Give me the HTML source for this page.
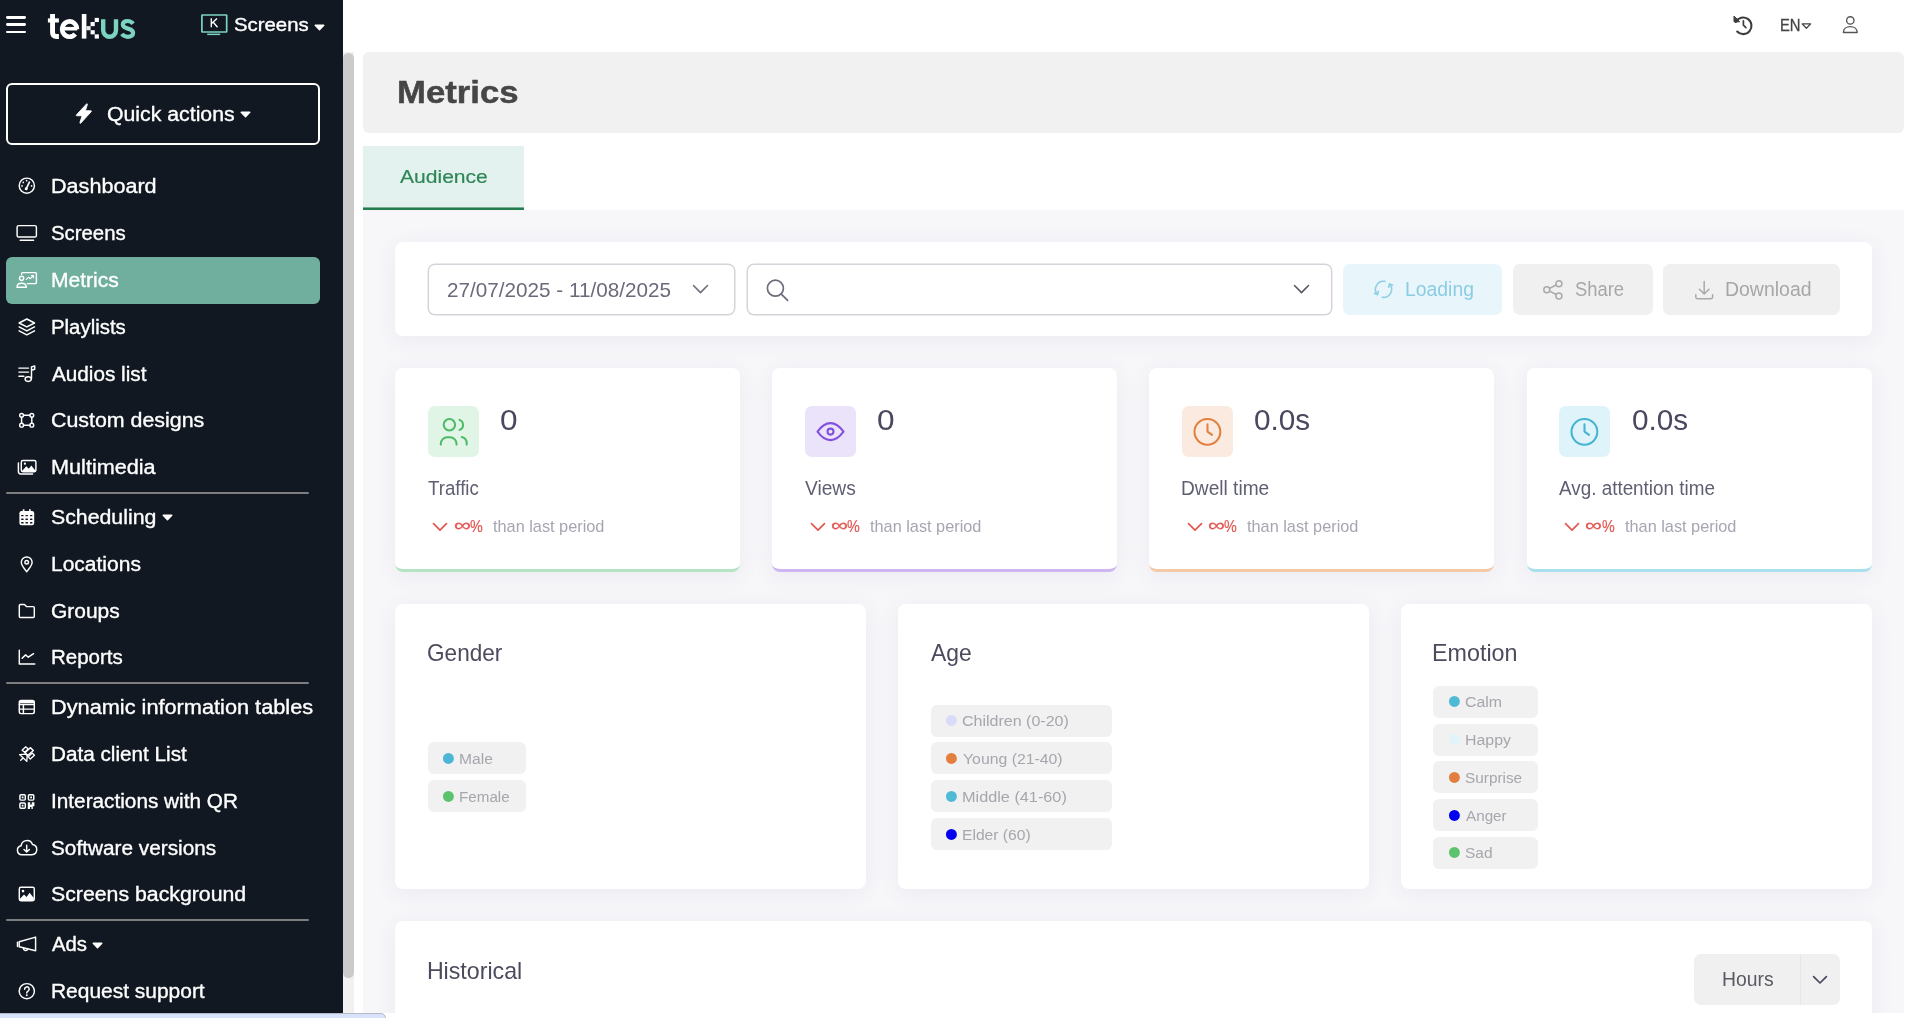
<!DOCTYPE html>
<html lang="en"><head><meta charset="utf-8"><title>Metrics</title>
<style>
html,body{margin:0;padding:0;}
body{width:1920px;height:1018px;overflow:hidden;background:#fff;position:relative;will-change:transform;font-family:"Liberation Sans",sans-serif;}
.a{position:absolute;display:block;box-sizing:border-box;}
.t{position:absolute;white-space:nowrap;line-height:1;transform-origin:0 0;display:block;}

.card{position:absolute;background:#fff;border-radius:8px;box-shadow:0 4px 22px rgba(85,85,125,0.075);box-sizing:border-box;}
.ni{position:absolute;left:16px;fill:none;stroke:#fff;stroke-width:1.45;stroke-linecap:round;stroke-linejoin:round;overflow:visible;}
.li{position:absolute;fill:none;stroke-linecap:round;stroke-linejoin:round;overflow:visible;}
</style></head>
<body>
<div class="a" style="left:363px;top:52px;width:1541px;height:80.5px;background:#f1f1f1;border-radius:6px;"></div>
<div class="a" style="left:363px;top:210px;width:1541px;height:803px;background:#f7f7fa;"></div>
<div class="a" style="left:363px;top:146px;width:161px;height:64px;background:#e4f2ef;"></div>
<svg class="a" style="left:363px;top:205px" width="161" height="5" viewBox="0 0 161 5"><rect x="0" y="2.45" width="161" height="2.55" fill="#257c4e"/></svg>
<div class="a" style="left:0px;top:0px;width:343px;height:1018px;background:#111821;"></div>
<div class="a" style="left:343.2px;top:52.4px;width:10.6px;height:962px;background:#f1f1f1;"></div>
<div class="a" style="left:343.3px;top:52.6px;width:10.5px;height:925.1px;background:#cbcbcb;border-radius:5.3px;"></div>
<div class="a" style="left:5.8px;top:16.0px;width:20.4px;height:2.7px;background:#fff;border-radius:1.4px;"></div>
<div class="a" style="left:5.8px;top:23.0px;width:20.4px;height:2.7px;background:#fff;border-radius:1.4px;"></div>
<div class="a" style="left:5.8px;top:30.5px;width:20.4px;height:2.7px;background:#fff;border-radius:1.4px;"></div>
<svg class="a" style="left:40px;top:5px" width="105" height="42" viewBox="0 0 105 42" fill="none"><g stroke="#fff" stroke-linecap="butt"><path d="M12.55 9V27.6Q12.55 31.55 16.6 31.55H18.9" stroke-width="4.9"/><path d="M7.9 15.45H18.9" stroke-width="4.1"/><path d="M36.9 24.2A7.35 7.7 0 1 0 35.2 29" stroke-width="4.6"/><path d="M22.6 23.7H37.2" stroke-width="3.6"/></g><g fill="#fff"><rect x="41.8" y="9" width="4.6" height="24.6"/><rect x="54.7" y="12.9" width="4.2" height="4.15"/><rect x="50.55" y="17" width="4.2" height="4.15"/><rect x="46.4" y="21.1" width="4.2" height="4.15" fill="#e9e9e9"/><rect x="50.55" y="25.2" width="4.2" height="4.15"/><rect x="54.7" y="29.35" width="4.2" height="4.25"/></g><g stroke="#7bd3c0"><path d="M63.2 14.3V25.3a6.4 6.4 0 0 0 12.8 0V14.3" stroke-width="4.4"/><path d="M93.1 18.7C91.7 16.8 89.9 16 87.7 16C84.7 16 82.8 17.4 82.8 19.6C82.8 21.9 84.8 22.8 87.9 23.6C91.2 24.4 93.1 25.5 93.1 28C93.1 30.3 90.9 31.8 87.8 31.8C85.2 31.8 83.3 30.9 81.9 28.9" stroke-width="4.2"/></g></svg>
<svg class="a" style="left:199px;top:12px;overflow:visible" width="31" height="26" viewBox="0 0 31 26"><rect x="2.9" y="3" width="24.8" height="17" rx="0.3" fill="none" stroke="#7bd3c0" stroke-width="1.7"/><rect x="8.2" y="21.6" width="13" height="1.5" fill="#7bd3c0"/><path d="M12.3 6.3v9M18 6.6l-5.4 5M14.3 10.2l4.2 5.1" fill="none" stroke="#fff" stroke-width="1.35"/></svg>
<span class="t" style="left:233.96px;top:15.84px;font-size:18.5px;color:#ffffff;-webkit-text-stroke:0.35px #ffffff;transform:scaleX(1.1003);">Screens</span>
<svg class="a" style="left:314px;top:23.6px" width="11" height="7" viewBox="0 0 11 7"><path d="M1.2 0.6h8.6a.7.7 0 0 1 .5 1.2L6 6.2a.7.7 0 0 1-1 0L.7 1.8a.7.7 0 0 1 .5-1.2z" fill="#fff"/></svg>
<div class="a" style="left:6px;top:83px;width:314px;height:62px;border-radius:6px;border:2.3px solid #fff;"></div>
<svg class="a" style="left:75px;top:103px" width="18" height="21" viewBox="0 0 18 21"><path d="M11.6 0.9 1.4 11.9a.5.5 0 0 0 .4.85h5.3L4.9 19.7c-.15.5.45.85.8.45L16.3 8.6a.5.5 0 0 0-.4-.85h-5.5l2-6.4c.15-.5-.45-.85-.8-.45z" fill="#fff" stroke="#fff" stroke-width=".9" stroke-linejoin="round"/></svg>
<span class="t" style="left:107.30px;top:103.67px;font-size:20px;color:#ffffff;-webkit-text-stroke:0.35px #ffffff;transform:scaleX(1.0634);">Quick actions</span>
<svg class="a" style="left:240.4px;top:110.8px" width="11" height="7" viewBox="0 0 11 7"><path d="M1.2 0.6h8.6a.7.7 0 0 1 .5 1.2L6 6.2a.7.7 0 0 1-1 0L.7 1.8a.7.7 0 0 1 .5-1.2z" fill="#fff"/></svg>
<div class="a" style="left:6px;top:491.5px;width:303px;height:2.7px;background:#7e7e80;border-radius:1.3px;"></div>
<div class="a" style="left:6px;top:681.6999999999998px;width:303px;height:2.7px;background:#7e7e80;border-radius:1.3px;"></div>
<div class="a" style="left:6px;top:918.6999999999996px;width:303px;height:2.7px;background:#7e7e80;border-radius:1.3px;"></div>
<div class="a" style="left:6px;top:256.8px;width:314px;height:46.8px;background:#70ae9e;border-radius:6px;"></div>
<span class="t" style="left:51.21px;top:176.37px;font-size:20px;color:#ffffff;-webkit-text-stroke:0.35px #ffffff;transform:scaleX(1.0793);">Dashboard</span>
<span class="t" style="left:51.36px;top:223.17px;font-size:20px;color:#ffffff;-webkit-text-stroke:0.35px #ffffff;transform:scaleX(1.0178);">Screens</span>
<span class="t" style="left:51.26px;top:269.97px;font-size:20px;color:#ffffff;-webkit-text-stroke:0.35px #ffffff;transform:scaleX(1.0521);">Metrics</span>
<span class="t" style="left:51.31px;top:316.77px;font-size:20px;color:#ffffff;-webkit-text-stroke:0.35px #ffffff;transform:scaleX(1.0188);">Playlists</span>
<span class="t" style="left:51.50px;top:363.57px;font-size:20px;color:#ffffff;-webkit-text-stroke:0.35px #ffffff;transform:scaleX(1.0359);">Audios list</span>
<span class="t" style="left:51.00px;top:410.37px;font-size:20px;color:#ffffff;-webkit-text-stroke:0.35px #ffffff;transform:scaleX(1.0688);">Custom designs</span>
<span class="t" style="left:51.21px;top:457.17px;font-size:20px;color:#ffffff;-webkit-text-stroke:0.35px #ffffff;transform:scaleX(1.0823);">Multimedia</span>
<span class="t" style="left:51.33px;top:506.97px;font-size:20px;color:#ffffff;-webkit-text-stroke:0.35px #ffffff;transform:scaleX(1.0646);">Scheduling</span>
<span class="t" style="left:51.26px;top:553.77px;font-size:20px;color:#ffffff;-webkit-text-stroke:0.35px #ffffff;transform:scaleX(1.0500);">Locations</span>
<span class="t" style="left:51.02px;top:600.57px;font-size:20px;color:#ffffff;-webkit-text-stroke:0.35px #ffffff;transform:scaleX(1.0481);">Groups</span>
<span class="t" style="left:51.30px;top:647.37px;font-size:20px;color:#ffffff;-webkit-text-stroke:0.35px #ffffff;transform:scaleX(1.0244);">Reports</span>
<span class="t" style="left:51.20px;top:697.17px;font-size:20px;color:#ffffff;-webkit-text-stroke:0.35px #ffffff;transform:scaleX(1.0865);">Dynamic information tables</span>
<span class="t" style="left:51.28px;top:743.97px;font-size:20px;color:#ffffff;-webkit-text-stroke:0.35px #ffffff;transform:scaleX(1.0349);">Data client List</span>
<span class="t" style="left:51.28px;top:790.77px;font-size:20px;color:#ffffff;-webkit-text-stroke:0.35px #ffffff;transform:scaleX(1.0382);">Interactions with QR</span>
<span class="t" style="left:51.35px;top:837.57px;font-size:20px;color:#ffffff;-webkit-text-stroke:0.35px #ffffff;transform:scaleX(1.0393);">Software versions</span>
<span class="t" style="left:51.34px;top:884.37px;font-size:20px;color:#ffffff;-webkit-text-stroke:0.35px #ffffff;transform:scaleX(1.0638);">Screens background</span>
<span class="t" style="left:51.50px;top:934.17px;font-size:20px;color:#ffffff;-webkit-text-stroke:0.35px #ffffff;transform:scaleX(1.0166);">Ads</span>
<span class="t" style="left:51.26px;top:980.97px;font-size:20px;color:#ffffff;-webkit-text-stroke:0.35px #ffffff;transform:scaleX(1.0471);">Request support</span>
<svg class="a" style="left:162px;top:514.0px" width="11" height="7" viewBox="0 0 11 7"><path d="M1.2 0.6h8.6a.7.7 0 0 1 .5 1.2L6 6.2a.7.7 0 0 1-1 0L.7 1.8a.7.7 0 0 1 .5-1.2z" fill="#fff"/></svg>
<svg class="a" style="left:92.2px;top:941.6px" width="11" height="7" viewBox="0 0 11 7"><path d="M1.2 0.6h8.6a.7.7 0 0 1 .5 1.2L6 6.2a.7.7 0 0 1-1 0L.7 1.8a.7.7 0 0 1 .5-1.2z" fill="#fff"/></svg>
<svg class="ni" style="top:175.4px" width="22" height="22" viewBox="0 0 22 22"><circle cx="10.8" cy="10.7" r="7.6"/><path d="M10.3 13.6 13.4 7.2" stroke-width="1.7"/><circle cx="10.2" cy="13.8" r="1.5" fill="#fff" stroke="none"/><g fill="#fff" stroke="none"><circle cx="6" cy="10.9" r=".85"/><circle cx="7.3" cy="7.4" r=".85"/><circle cx="10.6" cy="5.7" r=".85"/><circle cx="15.6" cy="10.9" r=".85"/></g></svg>
<svg class="ni" style="top:222.2px" width="22" height="22" viewBox="0 0 22 22"><rect x="1.1" y="3.6" width="19.3" height="11.4" rx="1.6"/><path d="M4.2 18.3h13.4"/></svg>
<svg class="ni" style="top:269.0px" width="22" height="22" viewBox="0 0 22 22"><path d="M5.6 5.2V4.6a1 1 0 0 1 1-1h12.8a1 1 0 0 1 1 1v9a1 1 0 0 1-1 1h-8"/><circle cx="5.6" cy="9.3" r="2.1"/><path d="M1 18.2c0-2.6 1.8-4 4.6-4s4.7 1.4 4.7 4z"/><path d="M10.4 10.4l2.3-2.3 1.7 1.6 3-3M15.4 6.6h2.1v2.1" stroke-width="1.2"/></svg>
<svg class="ni" style="top:315.8px" width="22" height="22" viewBox="0 0 22 22"><path d="M10.8 3 18.5 7 10.8 10.9 3.1 7z"/><path d="M3.1 10.9 10.8 14.9 18.5 10.9"/><path d="M3.1 14.8 10.8 18.8 18.5 14.8"/></svg>
<svg class="ni" style="top:362.6px" width="22" height="22" viewBox="0 0 22 22"><path d="M2.9 5.1h9.6M2.9 9.1h9.6M2.9 13.2h5"/><path d="M15.5 15.6V4l3.2-1.1v3.3l-3.2 1.1"/><ellipse cx="12.2" cy="16.1" rx="3.1" ry="2.3"/></svg>
<svg class="ni" style="top:409.4px" width="22" height="22" viewBox="0 0 22 22"><path d="M7.6 6.3h6.2M7.6 16.2h6.2M5.6 8.3v5.9M15.8 8.3v5.9"/><circle cx="5.6" cy="6.3" r="1.9"/><circle cx="15.8" cy="6.3" r="1.9"/><circle cx="5.6" cy="16.2" r="1.9"/><circle cx="15.8" cy="16.2" r="1.9"/></svg>
<svg class="ni" style="top:456.2px" width="22" height="22" viewBox="0 0 22 22"><rect x="5.3" y="4.4" width="14.6" height="11.3" rx="1.6"/><path d="M2.4 7v8.6a2.4 2.4 0 0 0 2.4 2.4h11.8"/><path d="M6 15 10.3 10.3 12.8 12.8 15.3 9.6 19.3 14.5V15.2H6z" fill="#fff" stroke="none"/><circle cx="8.9" cy="7.7" r="1.1" fill="#fff" stroke="none"/></svg>
<svg class="ni" style="top:506.0px" width="22" height="22" viewBox="0 0 22 22"><path d="M7.6 3.2v2.5M13.9 3.2v2.5" stroke-width="1.7" stroke-linecap="butt"/><rect x="3.4" y="5.1" width="14.8" height="14.1" rx="2.2" fill="#fff" stroke="none"/><g fill="#111821" stroke="none"><rect x="5.15" y="8.90" width="2.5" height="1.4" rx=".5"/><rect x="9.45" y="8.90" width="2.5" height="1.4" rx=".5"/><rect x="13.95" y="8.90" width="2.5" height="1.4" rx=".5"/><rect x="5.15" y="12.50" width="2.5" height="1.4" rx=".5"/><rect x="9.45" y="12.50" width="2.5" height="1.4" rx=".5"/><rect x="13.95" y="12.50" width="2.5" height="1.4" rx=".5"/><rect x="5.15" y="16.00" width="2.5" height="1.4" rx=".5"/><rect x="9.45" y="16.00" width="2.5" height="1.4" rx=".5"/><rect x="13.95" y="16.00" width="2.5" height="1.4" rx=".5"/></g></svg>
<svg class="ni" style="top:552.8px" width="22" height="22" viewBox="0 0 22 22"><path d="M10.7 18.7c-2-2.6-5.4-6-5.4-9.4a5.4 5.4 0 0 1 10.8 0c0 3.4-3.4 6.8-5.4 9.4z"/><circle cx="10.7" cy="9.2" r="1.8"/></svg>
<svg class="ni" style="top:599.6px" width="22" height="22" viewBox="0 0 22 22"><path d="M3.3 16.4V5.5a1.1 1.1 0 0 1 1.1-1.1h4l2.1 2.2h6.7a1.1 1.1 0 0 1 1.1 1.1v8.7a1.1 1.1 0 0 1-1.1 1.1H4.4a1.1 1.1 0 0 1-1.1-1.1z"/></svg>
<svg class="ni" style="top:646.4px" width="22" height="22" viewBox="0 0 22 22"><path d="M3.3 4.1v13.8h15.5"/><path d="M6.1 12.2 9.6 8.9 12.3 11.2 17.6 7.6"/></svg>
<svg class="ni" style="top:696.2px" width="22" height="22" viewBox="0 0 22 22"><rect x="3.3" y="4.4" width="15" height="13.2" rx="1.8"/><path d="M3.3 8.6h15M3.3 13.1h15M7.4 8.6v9" /><path d="M3.6 6.2h14.4" stroke-width="2.4" stroke-linecap="butt"/></svg>
<svg class="ni" style="top:743.0px" width="22" height="22" viewBox="0 0 22 22"><g transform="translate(11 11.2) scale(.92) translate(-11 -11)"><path d="M9.6 3 12.3 5.4 8.4 9 5.7 6.7z"/><path d="M14.6 3.9 17.9 6.9 11.8 12.5 8.8 9.5z" stroke-width="1.6"/><path d="M16.7 9.8 19.1 12.2 14.6 16.3 12.4 13.9z"/><path d="M3 11.4 9.6 10.9 11.2 12.4 10.8 18.8z"/><path d="M6.5 15.3 4.2 17.5"/></g></svg>
<svg class="ni" style="top:789.8px" width="22" height="22" viewBox="0 0 22 22"><rect x="3.9" y="4.7" width="5.4" height="5.4" rx="1"/><rect x="12.4" y="4.7" width="5.4" height="5.4" rx="1"/><rect x="3.9" y="12.9" width="5.4" height="5.4" rx="1"/><g fill="#fff" stroke="none"><rect x="5.7" y="6.5" width="1.8" height="1.8"/><rect x="14.2" y="6.5" width="1.8" height="1.8"/><rect x="5.7" y="14.7" width="1.8" height="1.8"/><path d="M11.8 12.3h2.4v2.2h1.6v-2.2h2.6v4h-1.6v2.7h-1.4v-2h-1.4v2h-2.2z"/></g></svg>
<svg class="ni" style="top:836.6px" width="22" height="22" viewBox="0 0 22 22"><path d="M5.9 17.8a4.6 4.6 0 0 1-.8-9.1 5.9 5.9 0 0 1 11.4-1.2 5.2 5.2 0 0 1-.6 10.3z"/><path d="M10.7 8.2v6.6M8 12.4l2.7 2.6 2.7-2.6"/></svg>
<svg class="ni" style="top:883.4px" width="22" height="22" viewBox="0 0 22 22"><rect x="3.3" y="4.3" width="15" height="13.4" rx="1.6"/><circle cx="7" cy="8.1" r="1.3" fill="#fff" stroke="none"/><path d="M3.8 16 8 11.6 10.6 14 13.6 9.8 17.8 15v2.2H3.8z" fill="#fff" stroke="none"/></svg>
<svg class="ni" style="top:933.2px" width="22" height="22" viewBox="0 0 22 22"><path d="M3.2 8.8 19.6 4.1V17.8L3.2 13.8z"/><path d="M1.5 9.2v4.4"/><path d="M7.6 15a2.1 2.1 0 0 0 4.1 .9"/></svg>
<svg class="ni" style="top:980.0px" width="22" height="22" viewBox="0 0 22 22"><circle cx="10.8" cy="11.2" r="7.6"/><path d="M8.6 9.2a2.3 2.3 0 1 1 3.4 2c-.8.5-1.2.9-1.2 1.9" stroke-width="1.5"/><circle cx="10.8" cy="15.3" r=".95" fill="#fff" stroke="none"/></svg>
<svg class="li" style="left:1732px;top:13px;stroke:#3c3c3c;stroke-width:2.1" width="24" height="24" viewBox="0 0 24 24"><path d="M5.2 18.6a8.3 8.3 0 1 0-1.4-9.6" /><path d="M2 3.4v5.4h5.4z" fill="#3c3c3c" stroke-width="1"/><path d="M11.4 7.8v4.4l2.5 2.4" stroke-width="1.7"/></svg>
<span class="t" style="left:1779.54px;top:16.99px;font-size:16.2px;color:#444444;-webkit-text-stroke:0.3px #444444;transform:scaleX(0.9138);">EN</span>
<svg class="li" style="left:1800.8px;top:23px;stroke:#444;stroke-width:1.3" width="11" height="7" viewBox="0 0 11 7"><path d="M1.2 0.9h8.4L5.4 5.3z"/></svg>
<svg class="li" style="left:1842px;top:15px;stroke:#555;stroke-width:1.35" width="17" height="19" viewBox="0 0 17 19"><circle cx="8.3" cy="5.4" r="3.7"/><path d="M1.4 17.5c0-3.6 2.9-5.9 6.9-5.9s6.9 2.3 6.9 5.9z"/></svg>
<span class="t" style="left:396.83px;top:75.81px;font-size:32px;color:#464646;font-weight:700;-webkit-text-stroke:0.5px #464646;transform:scaleX(1.0851);">Metrics</span>
<span class="t" style="left:400.00px;top:168.29px;font-size:18.8px;color:#2f8656;-webkit-text-stroke:0.2px #2f8656;transform:scaleX(1.1207);">Audience</span>
<div class="card" style="left:395px;top:242.2px;width:1477px;height:93.6px"></div>
<div class="a" style="left:427.5px;top:264px;width:307.5px;height:50.6px;background:#fff;border-radius:7px;border:1px solid #d3d3d9;box-shadow:0 0 0 .45px #d3d3d9;"></div>
<span class="t" style="left:447.13px;top:279.73px;font-size:20.4px;color:#6a6a7a;transform:scaleX(1.0145);">27/07/2025 - 11/08/2025</span>
<svg class="li" style="left:692.3px;top:284.4px;stroke:#6a6a7a;stroke-width:1.5" width="18" height="11" viewBox="0 0 18 11"><path d="M1.5 1.5 8.5 8.6 15.5 1.5"/></svg>
<div class="a" style="left:746.7px;top:264px;width:585px;height:50.6px;background:#fff;border-radius:7px;border:1px solid #d3d3d9;box-shadow:0 0 0 .45px #d3d3d9;"></div>
<svg class="li" style="left:765px;top:277.5px;stroke:#6c6c7b;stroke-width:1.7" width="25" height="25" viewBox="0 0 25 25"><circle cx="10.4" cy="10.2" r="8"/><path d="M16.3 16.1 22.6 22.4"/></svg>
<svg class="li" style="left:1292.6px;top:284.4px;stroke:#55555f;stroke-width:1.5" width="18" height="11" viewBox="0 0 18 11"><path d="M1.5 1.5 8.5 8.6 15.5 1.5"/></svg>
<div class="a" style="left:1342.7px;top:263.8px;width:159.2px;height:50.9px;background:#e8f5fb;border-radius:7px;"></div>
<svg class="li" style="left:1372.5px;top:279.4px;stroke:#8fd0e4;stroke-width:1.6" width="21" height="21" viewBox="0 0 21 21"><path d="M11.9 2.4A8 8 0 0 0 4.4 15.5"/><path d="M1.5 14.3l3 1.4.9-3.3"/><path d="M9.1 18.2A8 8 0 0 0 16.6 5.1"/><path d="M19.5 6.3l-3-1.4-.9 3.3"/></svg>
<span class="t" style="left:1405.09px;top:279.76px;font-size:19.3px;color:#8acde3;transform:scaleX(1.0046);">Loading</span>
<div class="a" style="left:1512.7px;top:263.8px;width:140px;height:50.9px;background:#f0f0f0;border-radius:7px;"></div>
<svg class="li" style="left:1542.3px;top:278.6px;stroke:#a9a9a9;stroke-width:1.5" width="22" height="22" viewBox="0 0 22 22"><circle cx="16.9" cy="4.7" r="3"/><circle cx="4.8" cy="10.7" r="3"/><circle cx="16.9" cy="16.9" r="3"/><path d="M7.5 9.3 14.2 6M7.5 12.1 14.2 15.5"/></svg>
<span class="t" style="left:1575.42px;top:279.76px;font-size:19.3px;color:#a7a7a7;transform:scaleX(0.9538);">Share</span>
<div class="a" style="left:1663.3px;top:263.8px;width:176.4px;height:50.9px;background:#f0f0f0;border-radius:7px;"></div>
<svg class="li" style="left:1693.5px;top:279.5px;stroke:#a9a9a9;stroke-width:1.5" width="21" height="21" viewBox="0 0 21 21"><path d="M10.2 1.6v12M5.4 9.2l4.8 4.8 4.8-4.8"/><path d="M1.8 14.8v2.3a1.7 1.7 0 0 0 1.7 1.7h13.4a1.7 1.7 0 0 0 1.7-1.7v-2.3"/></svg>
<span class="t" style="left:1725.48px;top:279.76px;font-size:19.3px;color:#a7a7a7;transform:scaleX(1.0091);">Download</span>
<div class="card" style="left:395.0px;top:368px;width:345.25px;height:204px;border-bottom:3px solid #b5e4c5;"></div>
<div class="a" style="left:427.5px;top:405.8px;width:51px;height:51px;background:#e1f5e6;border-radius:7px;"></div>
<svg class="li" style="left:437.50px;top:415.8px;stroke:#4dba68;stroke-width:2.05" width="31" height="31" viewBox="0 0 31 31"><circle cx="11.4" cy="8.7" r="5.7"/><path d="M2.8 28.6v-.8a6.6 6.6 0 0 1 6.6-6.6h2.5a6.6 6.6 0 0 1 6.6 6.6v.8"/><path d="M21.5 3.9a5.3 5.3 0 0 1 0 10"/><path d="M23.8 21a6.4 6.4 0 0 1 4.9 6.2v1.4"/></svg>
<span class="t" style="left:499.81px;top:406.29px;font-size:28.6px;color:#4a485e;transform:scaleX(1.1049);">0</span>
<span class="t" style="left:427.91px;top:478.51px;font-size:19.6px;color:#5f5f74;transform:scaleX(0.9535);">Traffic</span>
<svg class="li" style="left:432.40px;top:521.6px;stroke:#e25650;stroke-width:1.65" width="17" height="11" viewBox="0 0 17 11"><path d="M1.5 1.6 8 8.1 14.5 1.6"/></svg>
<span class="t" style="left:453.66px;top:517.10px;font-size:17.6px;color:#e25650;-webkit-text-stroke:0.25px #e25650;transform:scaleX(1.3481);">∞</span>
<span class="t" style="left:469.75px;top:517.91px;font-size:17px;color:#e25650;-webkit-text-stroke:0.2px #e25650;transform:scaleX(0.8453);">%</span>
<span class="t" style="left:493.10px;top:517.91px;font-size:17px;color:#a6a6b3;transform:scaleX(0.9585);">than last period</span>
<div class="card" style="left:772.2px;top:368px;width:345.25px;height:204px;border-bottom:3px solid #cdb5f2;"></div>
<div class="a" style="left:804.7px;top:405.8px;width:51px;height:51px;background:#ebe3fa;border-radius:7px;"></div>
<svg class="li" style="left:814.70px;top:415.8px;stroke:#8250df;stroke-width:2.05" width="31" height="31" viewBox="0 0 31 31"><path d="M2.5 15.6C6.5 10.1 10.5 7.1 15.5 7.1S24.5 10.1 28.5 15.6C24.5 21.1 20.5 24.1 15.5 24.1S6.5 21.1 2.5 15.6z"/><circle cx="15.5" cy="15.6" r="3"/></svg>
<span class="t" style="left:877.01px;top:406.29px;font-size:28.6px;color:#4a485e;transform:scaleX(1.1049);">0</span>
<span class="t" style="left:804.70px;top:478.51px;font-size:19.6px;color:#5f5f74;transform:scaleX(0.9783);">Views</span>
<svg class="li" style="left:809.60px;top:521.6px;stroke:#e25650;stroke-width:1.65" width="17" height="11" viewBox="0 0 17 11"><path d="M1.5 1.6 8 8.1 14.5 1.6"/></svg>
<span class="t" style="left:830.86px;top:517.10px;font-size:17.6px;color:#e25650;-webkit-text-stroke:0.25px #e25650;transform:scaleX(1.3481);">∞</span>
<span class="t" style="left:846.95px;top:517.91px;font-size:17px;color:#e25650;-webkit-text-stroke:0.2px #e25650;transform:scaleX(0.8453);">%</span>
<span class="t" style="left:870.30px;top:517.91px;font-size:17px;color:#a6a6b3;transform:scaleX(0.9585);">than last period</span>
<div class="card" style="left:1149.2px;top:368px;width:345.25px;height:204px;border-bottom:3px solid #f5c9a8;"></div>
<div class="a" style="left:1181.7px;top:405.8px;width:51px;height:51px;background:#faeae0;border-radius:7px;"></div>
<svg class="li" style="left:1191.70px;top:415.8px;stroke:#e2813f;stroke-width:2.05" width="31" height="31" viewBox="0 0 31 31"><circle cx="15.4" cy="15.8" r="12.9"/><path d="M15.5 8.3v7.3l4.5 3.3"/></svg>
<span class="t" style="left:1254.07px;top:406.29px;font-size:28.6px;color:#4a485e;transform:scaleX(1.0407);">0.0s</span>
<span class="t" style="left:1180.90px;top:478.51px;font-size:19.6px;color:#5f5f74;transform:scaleX(0.9765);">Dwell time</span>
<svg class="li" style="left:1186.60px;top:521.6px;stroke:#e25650;stroke-width:1.65" width="17" height="11" viewBox="0 0 17 11"><path d="M1.5 1.6 8 8.1 14.5 1.6"/></svg>
<span class="t" style="left:1207.86px;top:517.10px;font-size:17.6px;color:#e25650;-webkit-text-stroke:0.25px #e25650;transform:scaleX(1.3481);">∞</span>
<span class="t" style="left:1223.95px;top:517.91px;font-size:17px;color:#e25650;-webkit-text-stroke:0.2px #e25650;transform:scaleX(0.8453);">%</span>
<span class="t" style="left:1247.30px;top:517.91px;font-size:17px;color:#a6a6b3;transform:scaleX(0.9585);">than last period</span>
<div class="card" style="left:1526.8px;top:368px;width:345.25px;height:204px;border-bottom:3px solid #a9e0ee;"></div>
<div class="a" style="left:1559.3px;top:405.8px;width:51px;height:51px;background:#def4fa;border-radius:7px;"></div>
<svg class="li" style="left:1569.30px;top:415.8px;stroke:#44b4d2;stroke-width:2.05" width="31" height="31" viewBox="0 0 31 31"><circle cx="15.4" cy="15.8" r="12.9"/><path d="M15.5 8.3v7.3l4.5 3.3"/></svg>
<span class="t" style="left:1631.67px;top:406.29px;font-size:28.6px;color:#4a485e;transform:scaleX(1.0407);">0.0s</span>
<span class="t" style="left:1559.30px;top:478.51px;font-size:19.6px;color:#5f5f74;transform:scaleX(0.9629);">Avg. attention time</span>
<svg class="li" style="left:1564.20px;top:521.6px;stroke:#e25650;stroke-width:1.65" width="17" height="11" viewBox="0 0 17 11"><path d="M1.5 1.6 8 8.1 14.5 1.6"/></svg>
<span class="t" style="left:1585.46px;top:517.10px;font-size:17.6px;color:#e25650;-webkit-text-stroke:0.25px #e25650;transform:scaleX(1.3481);">∞</span>
<span class="t" style="left:1601.55px;top:517.91px;font-size:17px;color:#e25650;-webkit-text-stroke:0.2px #e25650;transform:scaleX(0.8453);">%</span>
<span class="t" style="left:1624.90px;top:517.91px;font-size:17px;color:#a6a6b3;transform:scaleX(0.9585);">than last period</span>
<div class="card" style="left:395px;top:604px;width:471px;height:285px"></div>
<div class="card" style="left:898px;top:604px;width:471px;height:285px"></div>
<div class="card" style="left:1401px;top:604px;width:471px;height:285px"></div>
<span class="t" style="left:427.14px;top:641.56px;font-size:23.2px;color:#4b4b5d;transform:scaleX(0.9740);">Gender</span>
<span class="t" style="left:930.80px;top:641.56px;font-size:23.2px;color:#4b4b5d;transform:scaleX(0.9866);">Age</span>
<span class="t" style="left:1431.78px;top:641.56px;font-size:23.2px;color:#4b4b5d;transform:scaleX(1.0050);">Emotion</span>
<div class="a" style="left:427.5px;top:742.425px;width:98.3px;height:32px;background:#f1f1f1;border-radius:6px;"></div>
<svg class="a" style="left:441.00px;top:751.02px" width="15" height="15" viewBox="0 0 15 15"><circle cx="7.4" cy="7.45" r="5.45" fill="#4bb6d6"/></svg>
<span class="t" style="left:458.98px;top:751.01px;font-size:15.2px;color:#a6a6ad;transform:scaleX(1.0275);">Male</span>
<div class="a" style="left:427.5px;top:780.175px;width:98.3px;height:32px;background:#f1f1f1;border-radius:6px;"></div>
<svg class="a" style="left:441.00px;top:788.77px" width="15" height="15" viewBox="0 0 15 15"><circle cx="7.4" cy="7.45" r="5.45" fill="#5dc26e"/></svg>
<span class="t" style="left:459.01px;top:788.76px;font-size:15.2px;color:#a6a6ad;">Female</span>
<div class="a" style="left:930.6px;top:704.675px;width:181.2px;height:32px;background:#f1f1f1;border-radius:6px;"></div>
<svg class="a" style="left:944.10px;top:713.27px" width="15" height="15" viewBox="0 0 15 15"><circle cx="7.4" cy="7.45" r="5.45" fill="#dadafa"/></svg>
<span class="t" style="left:962.45px;top:713.26px;font-size:15.2px;color:#a6a6ad;transform:scaleX(1.0543);">Children (0-20)</span>
<div class="a" style="left:930.6px;top:742.425px;width:181.2px;height:32px;background:#f1f1f1;border-radius:6px;"></div>
<svg class="a" style="left:944.10px;top:751.02px" width="15" height="15" viewBox="0 0 15 15"><circle cx="7.4" cy="7.45" r="5.45" fill="#e37e3e"/></svg>
<span class="t" style="left:962.95px;top:751.01px;font-size:15.2px;color:#a6a6ad;transform:scaleX(1.0406);">Young (21-40)</span>
<div class="a" style="left:930.6px;top:780.175px;width:181.2px;height:32px;background:#f1f1f1;border-radius:6px;"></div>
<svg class="a" style="left:944.10px;top:788.77px" width="15" height="15" viewBox="0 0 15 15"><circle cx="7.4" cy="7.45" r="5.45" fill="#4fbad6"/></svg>
<span class="t" style="left:961.93px;top:788.76px;font-size:15.2px;color:#a6a6ad;transform:scaleX(1.0706);">Middle (41-60)</span>
<div class="a" style="left:930.6px;top:817.925px;width:181.2px;height:32px;background:#f1f1f1;border-radius:6px;"></div>
<svg class="a" style="left:944.10px;top:826.52px" width="15" height="15" viewBox="0 0 15 15"><circle cx="7.4" cy="7.45" r="5.45" fill="#0000f0"/></svg>
<span class="t" style="left:961.98px;top:826.51px;font-size:15.2px;color:#a6a6ad;transform:scaleX(1.0299);">Elder (60)</span>
<div class="a" style="left:1433.2px;top:685.8px;width:104.8px;height:32px;background:#f1f1f1;border-radius:6px;"></div>
<svg class="a" style="left:1446.70px;top:694.40px" width="15" height="15" viewBox="0 0 15 15"><circle cx="7.4" cy="7.45" r="5.45" fill="#4fbad6"/></svg>
<span class="t" style="left:1465.06px;top:694.38px;font-size:15.2px;color:#a6a6ad;transform:scaleX(1.0450);">Calm</span>
<div class="a" style="left:1433.2px;top:723.55px;width:104.8px;height:32px;background:#f1f1f1;border-radius:6px;"></div>
<svg class="a" style="left:1446.70px;top:732.15px" width="15" height="15" viewBox="0 0 15 15"><circle cx="7.4" cy="7.45" r="5.45" fill="#e0f4f9"/></svg>
<span class="t" style="left:1464.56px;top:732.13px;font-size:15.2px;color:#a6a6ad;transform:scaleX(1.0480);">Happy</span>
<div class="a" style="left:1433.2px;top:761.3px;width:104.8px;height:32px;background:#f1f1f1;border-radius:6px;"></div>
<svg class="a" style="left:1446.70px;top:769.90px" width="15" height="15" viewBox="0 0 15 15"><circle cx="7.4" cy="7.45" r="5.45" fill="#e37e3e"/></svg>
<span class="t" style="left:1465.32px;top:769.88px;font-size:15.2px;color:#a6a6ad;transform:scaleX(1.0107);">Surprise</span>
<div class="a" style="left:1433.2px;top:799.05px;width:104.8px;height:32px;background:#f1f1f1;border-radius:6px;"></div>
<svg class="a" style="left:1446.70px;top:807.65px" width="15" height="15" viewBox="0 0 15 15"><circle cx="7.4" cy="7.45" r="5.45" fill="#0000f0"/></svg>
<span class="t" style="left:1465.80px;top:807.63px;font-size:15.2px;color:#a6a6ad;transform:scaleX(1.0028);">Anger</span>
<div class="a" style="left:1433.2px;top:836.8px;width:104.8px;height:32px;background:#f1f1f1;border-radius:6px;"></div>
<svg class="a" style="left:1446.70px;top:845.40px" width="15" height="15" viewBox="0 0 15 15"><circle cx="7.4" cy="7.45" r="5.45" fill="#5dc26e"/></svg>
<span class="t" style="left:1465.32px;top:845.38px;font-size:15.2px;color:#a6a6ad;transform:scaleX(1.0188);">Sad</span>
<div class="card" style="left:395px;top:921.3px;width:1477px;height:120px"></div>
<span class="t" style="left:426.89px;top:959.66px;font-size:23.2px;color:#4b4b5d;">Historical</span>
<div class="a" style="left:1694.1px;top:954.2px;width:145.7px;height:50.8px;background:#f0f0f0;border-radius:7px;"></div>
<div class="a" style="left:1800px;top:954.2px;width:1px;height:50.8px;background:#e7e7e7;"></div>
<span class="t" style="left:1721.69px;top:969.84px;font-size:19.8px;color:#5a5a64;transform:scaleX(0.9793);">Hours</span>
<svg class="li" style="left:1811.6px;top:975.2px;stroke:#45455a;stroke-width:1.6" width="16" height="10" viewBox="0 0 16 10"><path d="M1.6 1.6 8 8 14.4 1.6"/></svg>
<div class="a" style="left:1904px;top:140px;width:16px;height:878px;background:#fff;"></div>
<div class="a" style="left:343px;top:1012.6px;width:1577px;height:6px;background:#fff;"></div>
<div class="a" style="left:-4px;top:1012.6px;width:389.5px;height:10px;background:#d8e2fb;border-radius:5px;border:1px solid #b5b9c8;"></div>
</body></html>
